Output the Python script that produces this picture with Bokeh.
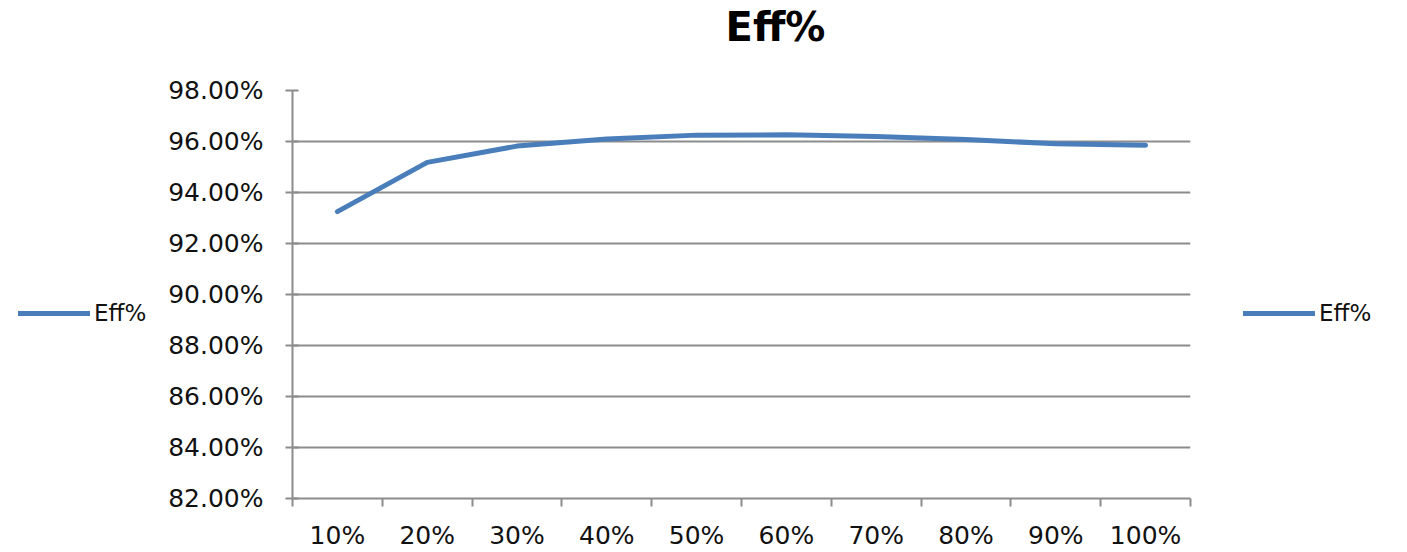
from bokeh.plotting import figure
from bokeh.layouts import row, column
from bokeh.models import (ColumnDataSource, FixedTicker, NumeralTickFormatter,
                          Range1d, Legend, LegendItem, Label)
from bokeh.embed import file_html
from bokeh.resources import INLINE

categories = ["10%", "20%", "30%", "40%", "50%", "60%", "70%", "80%", "90%", "100%"]
eff = [0.9325, 0.9518, 0.9582, 0.9610, 0.9625, 0.9626, 0.9620, 0.9608, 0.9591, 0.9585]
y_ticks = [0.82, 0.84, 0.86, 0.88, 0.90, 0.92, 0.94, 0.96, 0.98]
series_name = "Eff%"
title_text = "Eff%"

xpos = [i + 0.5 for i in range(len(categories))]
src = ColumnDataSource(dict(x=xpos, y=eff))

W = 1407
TITLE_H = 52
H = 552 - TITLE_H
LEFT_W = 148
MAIN_W = 1052
RIGHT_W = W - LEFT_W - MAIN_W
TOP_B = 90 - TITLE_H
BOT_B = 52

line_color = "#4A7EBB"
grid_col = "#8C8C8C"
text_col = "#111111"

# title strip
tf = figure(width=W, height=TITLE_H, output_backend="svg", toolbar_location=None,
            x_range=Range1d(0, 1), y_range=Range1d(0, 1),
            x_axis_type=None, y_axis_type=None, min_border=0)
tf.outline_line_color = None
tf.grid.visible = False
tf.background_fill_color = "white"
tf.border_fill_color = "white"
tf.add_layout(Label(x=775, y=TITLE_H - 26, x_units="screen", y_units="screen",
                    text=title_text, text_font="DejaVu Sans", text_font_style="bold",
                    text_font_size="40px", text_align="center", text_baseline="middle",
                    text_color="#000000"))

p = figure(width=MAIN_W, height=H, output_backend="svg", toolbar_location=None,
           x_range=Range1d(0, len(categories)), y_range=Range1d(0.82, 0.98),
           min_border_left=292 - LEFT_W, min_border_right=10, min_border_top=TOP_B,
           min_border_bottom=BOT_B)
p.outline_line_color = None
p.background_fill_color = "white"
p.border_fill_color = "white"

r = p.line("x", "y", source=src, line_width=5, line_color=line_color, line_cap="round")

# y axis
p.yaxis.ticker = FixedTicker(ticks=y_ticks)
p.yaxis.formatter = NumeralTickFormatter(format="0.00%")
p.yaxis.axis_line_color = grid_col
p.yaxis.axis_line_width = 2
p.yaxis.major_tick_line_color = grid_col
p.yaxis.major_tick_line_width = 2
p.yaxis.major_tick_in = 6
p.yaxis.major_tick_out = 7
p.yaxis.minor_tick_line_color = None
p.yaxis.major_label_text_font = "DejaVu Sans"
p.yaxis.major_label_text_font_size = "25px"
p.yaxis.major_label_text_color = text_col
p.yaxis.major_label_standoff = 22

# x axis
p.xaxis.ticker = FixedTicker(ticks=xpos, minor_ticks=list(range(len(categories) + 1)))
p.xaxis.major_label_overrides = {x: c for x, c in zip(xpos, categories)}
p.xaxis.axis_line_color = grid_col
p.xaxis.axis_line_width = 2
p.xaxis.major_tick_line_color = None
p.xaxis.major_tick_in = 0
p.xaxis.major_tick_out = 0
p.xaxis.minor_tick_line_color = grid_col
p.xaxis.minor_tick_line_width = 2
p.xaxis.minor_tick_in = 0
p.xaxis.minor_tick_out = 8
p.xaxis.major_label_text_font = "DejaVu Sans"
p.xaxis.major_label_text_font_size = "25px"
p.xaxis.major_label_text_color = text_col
p.xaxis.major_label_standoff = 14

p.xgrid.grid_line_color = None
p.ygrid.ticker = FixedTicker(ticks=y_ticks)
p.ygrid.grid_line_color = grid_col
p.ygrid.grid_line_width = 2


def legend_fig(w, xloc):
    f = figure(width=w, height=H, output_backend="svg", toolbar_location=None,
               x_range=Range1d(100, 101), y_range=Range1d(100, 101),
               x_axis_type=None, y_axis_type=None,
               min_border_left=0, min_border_right=0,
               min_border_top=TOP_B, min_border_bottom=BOT_B)
    f.outline_line_color = None
    f.grid.visible = False
    f.background_fill_color = "white"
    f.border_fill_color = "white"
    rr = f.line("x", "y", source=src, line_width=5, line_color=line_color, line_cap="round")
    # frame bottom sits at canvas y=500; item centred near canvas y=313
    lg = Legend(items=[LegendItem(label=series_name, renderers=[rr])],
                location=(xloc, 500 - 313 - 15),
                padding=0, margin=0, border_line_alpha=0, background_fill_alpha=0,
                glyph_width=72, glyph_height=20, label_height=20, label_standoff=4,
                label_text_font="DejaVu Sans", label_text_font_size="23px",
                label_text_color=text_col)
    f.add_layout(lg)
    return f


left = legend_fig(LEFT_W, 18)
right = legend_fig(RIGHT_W, 1243 - LEFT_W - MAIN_W)

layout = column(tf, row(left, p, right, spacing=0), spacing=0)
open("out.html", "w").write(file_html(layout, INLINE))
